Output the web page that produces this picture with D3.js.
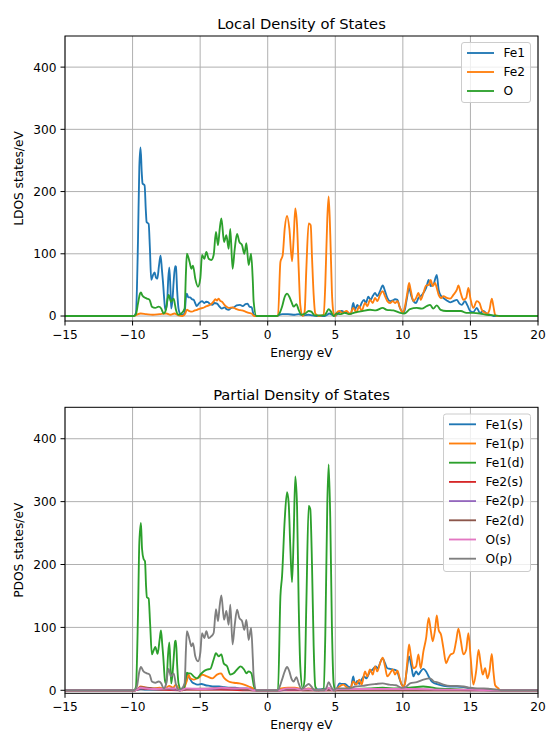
<!DOCTYPE html>
<html>
<head>
<meta charset="utf-8">
<script src="https://cdn.jsdelivr.net/npm/d3@7"></script>
<style>
  body { margin: 0; background: #fff; }
  svg text { font-family: "DejaVu Sans", sans-serif; fill: #000; }
</style>
</head>
<body>
<div id="chart"></div>
<script>
// axis ticks shared by both panels
var xTicks = [-15, -10, -5, 0, 5, 10, 15, 20];
var xTickLabels = ["\u221215", "\u221210", "\u22125", "0", "5", "10", "15", "20"];
var yTicks = [0, 100, 200, 300, 400];
var yTickLabels = ["0", "100", "200", "300", "400"];

// ---- Local DOS series, [energy eV, states/eV] ----
var ldosNames = ["Fe1", "Fe2", "O"];

var ldosFe1 = [[-15,0],[-9.9,0],[-9.75,5],[-9.6,120],[-9.5,240],[-9.41,271],[-9.32,230],[-9.26,213],[-9.11,210],[-9.02,170],[-8.96,151],[-8.81,148],[-8.72,110],[-8.62,58],[-8.5,65],[-8.37,70],[-8.27,62],[-8.17,60],[-8.05,80],[-7.93,97],[-7.83,75],[-7.75,55],[-7.65,25],[-7.58,10],[-7.45,20],[-7.36,60],[-7.28,78],[-7.2,45],[-7.14,12],[-7.05,25],[-6.96,55],[-6.85,80],[-6.79,79],[-6.7,40],[-6.6,12],[-6.45,3],[-6.3,2],[-6.15,5],[-6.05,30],[-5.98,36],[-5.88,30],[-5.75,30],[-5.6,27],[-5.48,26],[-5.35,20],[-5.26,16],[-5.1,20],[-4.95,23],[-4.86,24],[-4.7,21],[-4.55,23],[-4.4,22],[-4.25,19],[-4.1,18],[-3.95,21],[-3.75,20],[-3.6,16],[-3.4,12],[-3.2,14],[-3.04,11],[-2.9,10],[-2.7,13],[-2.5,14],[-2.3,17],[-2.05,18],[-1.85,16],[-1.65,19],[-1.5,20],[-1.35,15],[-1.19,14],[-1.05,3],[-0.85,0],[0.7,0],[0.85,2],[1.1,3],[1.5,3],[2.0,2],[2.3,3],[2.6,1],[3.0,2],[3.3,1],[3.6,0],[4.2,0],[4.4,2],[4.55,4],[4.75,2],[4.95,0],[5.1,2],[5.3,6],[5.47,8],[5.72,6],[5.96,5],[6.15,3],[6.33,21],[6.46,10],[6.63,18],[6.78,13],[6.95,21],[7.12,26],[7.27,21],[7.44,31],[7.62,26],[7.77,32],[7.94,37],[8.11,32],[8.31,40],[8.51,49],[8.68,40],[8.85,29],[9.05,24],[9.25,25],[9.42,27],[9.6,26],[9.74,16],[9.91,8],[10.09,6],[10.28,26],[10.46,45],[10.63,32],[10.78,24],[10.98,21],[11.15,29],[11.32,32],[11.52,37],[11.72,45],[11.91,58],[12.06,48],[12.26,50],[12.41,61],[12.51,66],[12.65,42],[12.83,32],[13.0,29],[13.25,25],[13.5,22],[13.74,24],[13.99,26],[14.19,20],[14.36,18],[14.6,24],[14.78,17],[14.98,8],[15.2,6],[15.47,13],[15.7,5],[15.96,8],[16.2,4],[16.46,2],[16.7,0],[20,0]];

var ldosFe2 = [[-15,0],[-9.9,0],[-9.7,2],[-9.4,4],[-9.0,3],[-8.5,2],[-8.0,3],[-7.5,4],[-7.2,2],[-6.9,4],[-6.6,1],[-6.3,0],[-6.1,4],[-5.98,10],[-5.8,8],[-5.6,7],[-5.4,9],[-5.23,10],[-5.0,12],[-4.8,13],[-4.6,15],[-4.37,17],[-4.15,20],[-3.98,24],[-3.88,27],[-3.75,25],[-3.63,28],[-3.5,24],[-3.38,23],[-3.2,18],[-3.05,15],[-2.89,13],[-2.6,14],[-2.4,12],[-2.15,10],[-1.9,9],[-1.65,7],[-1.4,5],[-1.2,4],[-1.0,0],[0.76,0],[0.94,87],[1.11,98],[1.26,141],[1.43,161],[1.6,141],[1.8,88],[1.92,125],[2.04,173],[2.17,146],[2.29,77],[2.41,18],[2.59,0],[2.73,7],[2.86,77],[3.03,149],[3.18,146],[3.28,93],[3.4,34],[3.52,4],[3.77,0],[4.14,2],[4.26,50],[4.41,157],[4.51,192],[4.63,130],[4.75,39],[4.88,4],[5.0,0],[5.1,5],[5.3,8],[5.5,5],[5.84,8],[6.1,3],[6.33,13],[6.55,6],[6.78,16],[6.95,8],[7.2,21],[7.37,16],[7.57,26],[7.77,21],[7.94,29],[8.11,24],[8.31,34],[8.51,40],[8.68,32],[8.85,24],[9.05,21],[9.25,24],[9.42,21],[9.6,24],[9.79,13],[10.0,5],[10.16,16],[10.33,37],[10.46,53],[10.58,42],[10.78,24],[10.98,29],[11.15,37],[11.32,26],[11.52,37],[11.72,49],[11.91,50],[12.06,58],[12.21,48],[12.38,53],[12.51,45],[12.65,34],[12.83,29],[13.0,32],[13.25,29],[13.5,28],[13.74,34],[13.99,42],[14.11,49],[14.28,37],[14.48,26],[14.68,29],[14.85,45],[15.02,26],[15.22,13],[15.47,24],[15.67,21],[15.84,10],[16.09,5],[16.25,4],[16.41,10],[16.58,28],[16.7,16],[16.83,2],[17.0,0],[20,0]];

var ldosO = [[-15,0],[-9.9,0],[-9.75,3],[-9.6,20],[-9.45,36],[-9.38,38],[-9.28,33],[-9.19,31],[-8.94,28],[-8.74,26],[-8.65,20],[-8.57,15],[-8.32,13],[-8.07,15],[-7.88,12],[-7.7,4],[-7.53,10],[-7.43,25],[-7.33,34],[-7.16,23],[-6.96,28],[-6.86,18],[-6.79,10],[-6.6,2],[-6.4,4],[-6.15,12],[-6.05,70],[-5.98,100],[-5.78,87],[-5.65,76],[-5.53,81],[-5.36,60],[-5.16,47],[-4.99,60],[-4.86,98],[-4.69,92],[-4.54,103],[-4.37,92],[-4.17,90],[-4.0,98],[-3.83,135],[-3.68,114],[-3.55,140],[-3.43,157],[-3.23,119],[-3.06,130],[-2.89,108],[-2.77,140],[-2.6,76],[-2.44,108],[-2.27,132],[-2.1,119],[-1.9,114],[-1.73,100],[-1.58,117],[-1.41,82],[-1.23,100],[-1.1,55],[-1.04,23],[-0.84,0],[0.7,0],[0.81,2],[1.06,15],[1.26,31],[1.43,36],[1.6,31],[1.75,23],[1.92,15],[2.12,19],[2.29,10],[2.49,2],[2.78,4],[3.03,8],[3.23,7],[3.47,1],[4.2,1],[4.38,7],[4.51,11],[4.68,7],[4.88,0],[5.1,4],[5.35,3],[5.7,5],[6.0,3],[6.5,6],[7.0,8],[7.57,10],[8.0,9],[8.51,13],[8.8,10],[9.3,9],[9.8,5],[10.1,4],[10.53,11],[11.03,13],[11.4,12],[11.77,16],[12.01,18],[12.25,12],[12.51,17],[12.8,10],[13.2,8],[13.8,8],[14.3,8],[14.7,5],[15.2,5],[15.7,4],[16.2,2],[16.8,1],[17.2,0],[20,0]];

// ---- Partial DOS series ----
var pdosNames = ["Fe1(s)", "Fe1(p)", "Fe1(d)", "Fe2(s)", "Fe2(p)", "Fe2(d)", "O(s)", "O(p)"];

var pdosFe1s = [[-15,0],[-9.8,0],[-9.4,2],[-9.0,1],[-8.0,1],[-7.3,2],[-6.8,2],[-6.5,0],[-6.2,2],[-6.05,18],[-5.95,25],[-5.8,20],[-5.6,13],[-5.45,11],[-5.2,9],[-4.9,10],[-4.6,8],[-4.3,7],[-4.0,6],[-3.6,6],[-3.2,5],[-2.8,4],[-2.4,4],[-2.0,3],[-1.6,3],[-1.2,2],[-0.9,0],[0.8,0],[1.5,1],[2.0,1],[3.0,1],[4.5,2],[4.9,0],[5.1,2],[5.3,11],[5.47,10],[5.72,10],[5.96,6],[6.15,4],[6.33,22],[6.46,9],[6.63,15],[6.78,10],[6.95,17],[7.12,22],[7.3,19],[7.57,30],[7.77,33],[7.99,38],[8.15,35],[8.36,46],[8.51,51],[8.68,43],[8.85,35],[9.05,34],[9.3,33],[9.55,31],[9.74,19],[9.91,9],[10.09,6],[10.28,30],[10.46,54],[10.63,38],[10.78,22],[10.98,30],[11.15,25],[11.32,30],[11.52,34],[11.72,30],[11.91,22],[12.13,14],[12.38,11],[12.65,9],[13.0,7],[13.5,6],[14.0,6],[14.5,5],[15.0,3],[15.5,2],[16.0,1],[16.5,0],[20,0]];

var pdosFe1p = [[-15,0],[-9.8,0],[-9.6,3],[-9.4,6],[-9.0,4],[-8.5,3],[-8.0,4],[-7.6,3],[-7.3,7],[-7.0,4],[-6.8,9],[-6.6,3],[-6.3,0],[-6.1,8],[-6.0,14],[-5.85,25],[-5.73,19],[-5.48,17],[-5.23,19],[-5.0,22],[-4.86,25],[-4.5,22],[-4.1,19],[-3.75,25],[-3.45,27],[-3.3,22],[-3.2,19],[-2.89,14],[-2.5,12],[-2.1,11],[-1.75,9],[-1.4,6],[-1.1,3],[-0.9,0],[0.8,0],[1.0,3],[1.5,4],[2.0,4],[2.3,3],[2.6,1],[3.0,3],[3.3,2],[3.6,0],[4.3,1],[4.5,3],[4.8,1],[5.0,0],[5.1,2],[5.3,6],[5.6,9],[5.84,5],[6.1,2],[6.33,14],[6.55,9],[6.78,17],[6.95,9],[7.2,30],[7.37,22],[7.57,33],[7.77,25],[7.94,38],[8.11,30],[8.31,43],[8.51,52],[8.68,38],[8.85,22],[9.05,27],[9.25,33],[9.42,25],[9.6,31],[9.79,17],[10.0,6],[10.16,11],[10.33,46],[10.46,73],[10.58,57],[10.78,35],[10.98,38],[11.15,57],[11.32,35],[11.52,62],[11.72,83],[11.91,115],[12.06,96],[12.21,78],[12.38,96],[12.51,119],[12.65,96],[12.83,88],[13.0,67],[13.2,43],[13.37,51],[13.54,57],[13.74,59],[13.94,78],[14.11,98],[14.28,80],[14.48,57],[14.68,64],[14.85,91],[15.02,51],[15.22,9],[15.42,30],[15.6,64],[15.77,41],[15.91,25],[16.09,35],[16.26,19],[16.41,30],[16.58,58],[16.7,30],[16.83,8],[17.07,3],[17.2,0],[20,0]];

var pdosFe1d = [[-15,0],[-9.9,0],[-9.75,5],[-9.6,120],[-9.5,235],[-9.38,266],[-9.3,225],[-9.19,209],[-9.08,205],[-9.0,165],[-8.94,148],[-8.81,146],[-8.7,105],[-8.57,57],[-8.45,63],[-8.32,69],[-8.15,58],[-8.0,80],[-7.9,95],[-7.8,72],[-7.73,54],[-7.6,15],[-7.5,10],[-7.38,55],[-7.28,76],[-7.2,40],[-7.14,11],[-7.05,25],[-6.96,50],[-6.85,78],[-6.79,79],[-6.7,40],[-6.6,11],[-6.4,1],[-6.2,3],[-6.05,22],[-5.98,28],[-5.85,27],[-5.73,27],[-5.48,22],[-5.23,19],[-4.99,25],[-4.75,30],[-4.5,33],[-4.25,34],[-4.0,49],[-3.83,59],[-3.63,54],[-3.43,57],[-3.26,43],[-3.0,38],[-2.77,25],[-2.52,27],[-2.27,33],[-2.0,38],[-1.75,33],[-1.58,27],[-1.41,30],[-1.21,27],[-1.01,6],[-0.85,0],[0.76,0],[0.94,150],[1.06,181],[1.26,272],[1.43,315],[1.55,298],[1.67,229],[1.8,172],[1.92,245],[2.04,340],[2.17,293],[2.29,139],[2.41,38],[2.59,3],[2.73,17],[2.86,139],[3.03,293],[3.15,288],[3.28,197],[3.4,70],[3.52,6],[3.77,0],[4.14,3],[4.26,86],[4.41,298],[4.51,359],[4.63,272],[4.75,102],[4.88,11],[5.0,0],[5.5,1],[6.5,2],[7.5,3],[8.5,4],[9.5,3],[10.5,4],[11.5,6],[12.0,5],[12.5,3],[13.5,2],[14.5,1],[15.5,1],[16.5,0],[20,0]];

var pdosFe2s = [[-15,0],[-9.8,0],[-9.4,3],[-8.8,2],[-8.0,1],[-6.5,0],[-6.0,1],[-3.5,1],[-1.0,0],[20,0]];

var pdosFe2p = [[-15,0],[-9.8,0],[-9.4,4],[-9.0,3],[-8.5,2],[-7.3,2],[-6.5,0],[-6.0,2],[-4.5,2],[-3.5,3],[-2.0,2],[-1.0,0],[0.9,0],[1.5,1],[4.5,1],[5.5,1],[8,1],[12,1],[16.5,0],[20,0]];

var pdosFe2d = [[-15,0],[-9.8,0],[-9.4,5],[-9.0,4],[-8.5,3],[-7.5,2],[-7.0,3],[-6.5,0],[-6.0,2],[-4.0,3],[-3.5,4],[-2.5,3],[-1.0,0],[0.9,0],[1.4,2],[2.0,2],[2.6,0],[20,0]];

var pdosOs = [[-15,0],[-9.8,0],[-9.4,4],[-9.0,3],[-8.5,2],[-7.3,3],[-6.8,3],[-6.5,0],[-6.0,3],[-5.0,2],[-4.0,3],[-3.4,4],[-2.5,3],[-1.5,3],[-1.0,0],[0.8,0],[1.4,3],[2.0,3],[2.5,1],[3.0,2],[3.5,0],[4.3,0],[4.5,4],[4.8,0],[5.2,2],[7,2],[9,2],[11,2],[13,1],[15,1],[16.5,0],[20,0]];

var pdosOp = [[-15,0],[-9.9,0],[-9.68,6],[-9.5,30],[-9.38,37],[-9.19,30],[-8.94,27],[-8.74,25],[-8.57,14],[-8.32,12],[-8.07,14],[-7.88,11],[-7.7,3],[-7.53,9],[-7.33,34],[-7.16,22],[-6.96,27],[-6.79,9],[-6.6,1],[-6.35,3],[-6.15,11],[-6.05,65],[-5.98,94],[-5.78,80],[-5.65,70],[-5.53,75],[-5.36,54],[-5.16,46],[-4.99,59],[-4.86,91],[-4.69,83],[-4.54,94],[-4.37,83],[-4.17,86],[-4.0,91],[-3.83,129],[-3.68,110],[-3.55,135],[-3.43,151],[-3.23,112],[-3.06,126],[-2.89,104],[-2.77,136],[-2.6,73],[-2.44,104],[-2.27,128],[-2.1,115],[-1.9,110],[-1.73,96],[-1.58,112],[-1.41,80],[-1.23,99],[-1.1,50],[-1.04,22],[-0.84,0],[0.7,0],[0.81,2],[1.06,17],[1.26,30],[1.43,37],[1.6,30],[1.75,19],[1.92,14],[2.12,21],[2.29,11],[2.49,2],[2.78,6],[3.03,10],[3.23,6],[3.47,0],[4.2,0],[4.38,6],[4.51,13],[4.68,6],[4.88,0],[5.1,3],[5.5,3],[6.0,3],[6.5,6],[7.0,7],[7.57,9],[8.0,10],[8.5,11],[9.0,9],[9.5,8],[9.9,4],[10.2,5],[10.53,11],[11.03,13],[11.52,17],[12.01,19],[12.3,14],[12.51,13],[13.0,9],[13.5,7],[14.0,7],[14.5,6],[15.0,4],[15.5,3],[16.0,3],[16.5,2],[17.0,1],[17.3,0],[20,0]];

// matplotlib default colour cycle
var colors = ["#1f77b4", "#ff7f0e", "#2ca02c", "#d62728", "#9467bd", "#8c564b", "#e377c2", "#7f7f7f"];

var svg = d3.select("#chart")
	.append("svg")
	.attr("width", 546)
	.attr("height", 731);

var x = d3.scaleLinear().domain([-15, 20]).range([65, 538]);

// draw one panel with its own y scale and legend
function drawPanel(opt) {
	var y = d3.scaleLinear().domain(opt.yDomain).range([opt.bottom, opt.top]);
	var g = svg.append("g");

	// clip lines to the axes box
	g.append("clipPath").attr("id", opt.id)
		.append("rect")
		.attr("x", 65).attr("y", opt.top)
		.attr("width", 538 - 65).attr("height", opt.bottom - opt.top);

	// grid
	xTicks.forEach(function(t) {
		g.append("line")
			.attr("x1", x(t)).attr("x2", x(t))
			.attr("y1", opt.top).attr("y2", opt.bottom)
			.attr("stroke", "#b0b0b0").attr("stroke-width", 1);
	});
	yTicks.forEach(function(t) {
		g.append("line")
			.attr("x1", 65).attr("x2", 538)
			.attr("y1", y(t)).attr("y2", y(t))
			.attr("stroke", "#b0b0b0").attr("stroke-width", 1);
	});

	// the dos curves (monotone keeps the peaks where they were read)
	var line = d3.line()
		.curve(d3.curveMonotoneX)
		.x(function(d) { return x(d[0]); })
		.y(function(d) { return y(d[1]); });
	opt.series.forEach(function(s, i) {
		g.append("path")
			.attr("d", line(s))
			.attr("clip-path", "url(#" + opt.id + ")")
			.attr("fill", "none")
			.attr("stroke", colors[i])
			.attr("stroke-width", 1.85)
			.attr("stroke-linejoin", "round");
	});

	// frame
	g.append("rect")
		.attr("x", 65).attr("y", opt.top)
		.attr("width", 538 - 65).attr("height", opt.bottom - opt.top)
		.attr("fill", "none").attr("stroke", "#000").attr("stroke-width", 1);

	// x ticks + labels
	xTicks.forEach(function(t, i) {
		g.append("line")
			.attr("x1", x(t)).attr("x2", x(t))
			.attr("y1", opt.bottom).attr("y2", opt.bottom + 4.5)
			.attr("stroke", "#000").attr("stroke-width", 1);
		g.append("text")
			.attr("x", x(t)).attr("y", opt.bottom + 17.5)
			.attr("text-anchor", "middle")
			.style("font-size", "12.2px")
			.text(xTickLabels[i]);
	});

	// y ticks + labels
	yTicks.forEach(function(t, i) {
		g.append("line")
			.attr("x1", 65 - 4.5).attr("x2", 65)
			.attr("y1", y(t)).attr("y2", y(t))
			.attr("stroke", "#000").attr("stroke-width", 1);
		g.append("text")
			.attr("x", 56.5).attr("y", y(t))
			.attr("dy", "0.36em")
			.attr("text-anchor", "end")
			.style("font-size", "12.2px")
			.text(yTickLabels[i]);
	});

	// title and axis labels
	g.append("text")
		.attr("x", (65 + 538) / 2).attr("y", opt.top - 7.5)
		.attr("text-anchor", "middle")
		.style("font-size", "14.7px")
		.text(opt.title);
	g.append("text")
		.attr("x", (65 + 538) / 2).attr("y", opt.bottom + 36)
		.attr("text-anchor", "middle")
		.style("font-size", "12.2px")
		.text("Energy eV");
	g.append("text")
		.attr("transform", "translate(23," + (opt.top + opt.bottom) / 2 + ") rotate(-90)")
		.attr("text-anchor", "middle")
		.style("font-size", "12.2px")
		.text(opt.ylabel);

	// legend box, upper right
	var lg = opt.legend;
	g.append("rect")
		.attr("x", lg.x).attr("y", lg.y)
		.attr("width", lg.w).attr("height", lg.h)
		.attr("rx", 2.5)
		.attr("fill", "#fff").attr("fill-opacity", 0.8)
		.attr("stroke", "#cccccc").attr("stroke-width", 1);
	opt.names.forEach(function(name, i) {
		var yy = lg.y + lg.first + i * lg.step;
		g.append("line")
			.attr("x1", lg.x + 5.5).attr("x2", lg.x + 32.5)
			.attr("y1", yy).attr("y2", yy)
			.attr("stroke", colors[i]).attr("stroke-width", 1.85);
		g.append("text")
			.attr("x", lg.x + 42).attr("y", yy)
			.attr("dy", "0.36em")
			.style("font-size", "12.2px")
			.text(name);
	});
}

drawPanel({
	id: "clipTop", top: 36, bottom: 321, yDomain: [-8, 450],
	title: "Local Density of States", ylabel: "LDOS states/eV",
	series: [ldosFe1, ldosFe2, ldosO], names: ldosNames,
	legend: {x: 461.5, y: 42.5, w: 69, h: 60, first: 10.5, step: 19}
});

drawPanel({
	id: "clipBot", top: 407.3, bottom: 693.3, yDomain: [-4.8, 450],
	title: "Partial Density of States", ylabel: "PDOS states/eV",
	series: [pdosFe1s, pdosFe1p, pdosFe1d, pdosFe2s, pdosFe2p, pdosFe2d, pdosOs, pdosOp],
	names: pdosNames,
	legend: {x: 443.5, y: 414, w: 87, h: 157.5, first: 10.3, step: 19.2}
});
</script>
</body>
</html>
